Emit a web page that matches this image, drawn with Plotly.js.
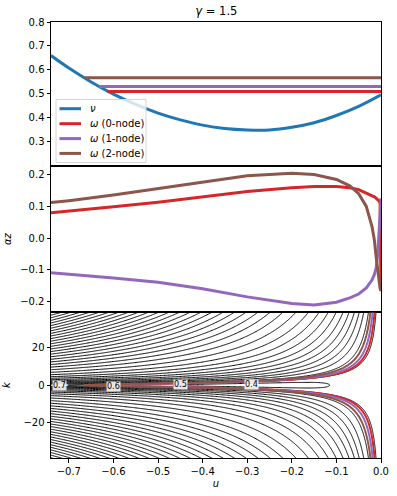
<!DOCTYPE html>
<html>
<head>
<meta charset="utf-8">
<script src="https://cdn.plot.ly/plotly-3.0.1.min.js"></script>
<style>
  html, body { margin: 0; padding: 0; background: #fff; }
  #chart { width: 397px; height: 496px; }
</style>
</head>
<body>
<div id="chart"></div>
<script>
// top panel: nu(u) and the mode frequencies
const uNu = [-0.74, -0.7, -0.65, -0.6, -0.55, -0.5, -0.45, -0.4, -0.35, -0.3, -0.25, -0.2, -0.15, -0.1, -0.05, 0];
const nu = [0.660, 0.608, 0.550, 0.499, 0.456, 0.420, 0.392, 0.370, 0.356, 0.350, 0.350, 0.361, 0.380, 0.410, 0.448, 0.496];

const modeNames = ['(0-node)', '(1-node)', '(2-node)'];
const omega = [0.510, 0.531, 0.567];
const omegaStart = [-0.614, -0.632, -0.664];

// middle panel: alpha z for each mode
const uAz = [-0.74, -0.7, -0.6, -0.5, -0.4, -0.3, -0.2, -0.15, -0.1, -0.07, -0.05, -0.033, -0.02, -0.015, -0.011, -0.007, -0.004, -0.002, 0];
const az0 = [0.080, 0.086, 0.099, 0.113, 0.130, 0.147, 0.159, 0.163, 0.163, 0.159, 0.153, 0.143, 0.134, 0.130, 0.126, 0.121, 0.116, 0.110, -0.168];
const az1 = [-0.110, -0.114, -0.126, -0.140, -0.160, -0.186, -0.207, -0.212, -0.203, -0.189, -0.177, -0.158, -0.132, -0.116, -0.095, -0.047, 0.015, 0.060, 0.126];
const az2 = [0.112, 0.118, 0.136, 0.156, 0.178, 0.197, 0.205, 0.201, 0.185, 0.165, 0.140, 0.100, 0.035, -0.005, -0.058, -0.110, -0.150, -0.160, -0.165];

// bottom panel: omega(u,k) = sqrt(nu^2 + C |u|^P k^2), fitted to where the coloured
// level curves sit. Black levels: 0.4, 0.5, then ~22% apart, then 0.9 apart above 4.5
const fieldC = 0.915, fieldP = 2.55;
const levelLow = 0.5, levelHigh = 4.5;

const contourLabels = ['0.7', '0.6', '0.5', '0.4'];
const labelU = [-0.722, -0.6, -0.45, -0.29];
const labelK = [-0.3, -0.6, 0.4, 0.6];

const colors = ['#d62728', '#9467bd', '#8c564b'];
const blue = '#1f77b4';
const azData = [az0, az1, az2];

// smooth (cubic hermite) interpolation between read points
function interp(xs, ys, x) {
  const n = xs.length;
  let i = 0;
  while (i < n - 2 && x > xs[i + 1]) i++;
  const x0 = xs[i], x1 = xs[i + 1];
  const t = Math.min(1, Math.max(0, (x - x0) / (x1 - x0)));
  const h = x1 - x0;
  const slope = j => {
    const a = Math.max(0, j - 1), b = Math.min(n - 1, j + 1);
    return (ys[b] - ys[a]) / (xs[b] - xs[a]);
  };
  const m0 = slope(i) * h, m1 = slope(i + 1) * h;
  const t2 = t * t, t3 = t2 * t;
  return (2*t3 - 3*t2 + 1) * ys[i] + (t3 - 2*t2 + t) * m0 + (-2*t3 + 3*t2) * ys[i + 1] + (t3 - t2) * m1;
}

// level spacing transform for the black contours (integer steps = one level)
function levelScale(f) {
  if (f <= levelLow) return f * 10;
  if (f <= levelHigh) return 5 + 5 * Math.log(f / levelLow);
  return 5 + 5 * Math.log(levelHigh / levelLow) + (f - levelHigh) / 0.9;
}

const gridU = [];
for (let i = 0; i <= 320; i++) gridU.push(-0.75 * Math.pow(1 - i / 320, 1.5));
const gridK = [];
for (let j = -220; j <= 220; j++) { const t = j / 220; gridK.push(40 * Math.sign(t) * t * t); }
const nuRow = gridU.map(u => interp(uNu, nu, u));
const cRow = gridU.map(u => fieldC * Math.pow(Math.abs(u), fieldP));
const field = gridK.map(k => gridU.map((u, i) => Math.sqrt(nuRow[i] * nuRow[i] + cRow[i] * k * k)));
const fieldScaled = field.map(row => row.map(levelScale));

const traces = [];

traces.push({
  x: uNu, y: nu, xaxis: 'x', yaxis: 'y', type: 'scatter', mode: 'lines',
  showlegend: false, line: { color: blue, width: 3, shape: 'spline' }
});
omega.forEach((w, i) => {
  traces.push({
    x: [omegaStart[i], 0], y: [w, w], xaxis: 'x', yaxis: 'y',
    type: 'scatter', mode: 'lines', showlegend: false,
    line: { color: colors[i], width: 3 }
  });
});

azData.forEach((az, i) => {
  traces.push({
    x: uAz, y: az, xaxis: 'x2', yaxis: 'y2', type: 'scatter', mode: 'lines',
    showlegend: false, line: { color: colors[i], width: 3 }
  });
});

traces.push({
  type: 'contour', x: gridU, y: gridK, z: fieldScaled, xaxis: 'x3', yaxis: 'y3',
  contours: { coloring: 'lines', start: 4, end: 60, size: 1 },
  colorscale: [[0, '#000'], [1, '#000']], showscale: false,
  line: { width: 1, smoothing: 0.8 }, hoverinfo: 'skip'
});
omega.forEach((w, i) => {
  traces.push({
    type: 'contour', x: gridU, y: gridK, z: field, xaxis: 'x3', yaxis: 'y3',
    contours: { coloring: 'lines', start: w, end: w, size: 1 },
    colorscale: [[0, colors[i]], [1, colors[i]]], showscale: false,
    line: { width: 2, smoothing: 0.8 }, hoverinfo: 'skip'
  });
});

// hand-built legend (matplotlib style, inside the top panel)
const px = x => (x - 51) / 330;
const py = y => (458 - y) / 436;
const legendRows = [108.7, 123.7, 138.6, 153.4];
const legendColors = [blue].concat(colors);
const legendText = ['<i>ν</i>'].concat(modeNames.map(m => '<i>ω</i> ' + m));

const shapes = [{
  type: 'rect', xref: 'paper', yref: 'paper', x0: px(56), x1: px(146), y0: py(162.5), y1: py(99.5),
  line: { color: '#d5d5d5', width: 1 }, fillcolor: 'rgba(255,255,255,0.8)', layer: 'above'
}];
legendRows.forEach((y, i) => {
  shapes.push({
    type: 'line', xref: 'paper', yref: 'paper', x0: px(59.5), x1: px(81), y0: py(y), y1: py(y),
    line: { color: legendColors[i], width: 3 }, layer: 'above'
  });
});

const annotations = legendRows.map((y, i) => ({
  xref: 'paper', yref: 'paper', x: px(88), y: py(y), xanchor: 'left', yanchor: 'middle',
  text: legendText[i], showarrow: false, font: { size: 10, color: '#000' }
})).concat(contourLabels.map((t, i) => ({
  x: labelU[i], y: labelK[i], xref: 'x3', yref: 'y3', text: t, showarrow: false,
  font: { size: 8, color: '#000' }, bgcolor: 'rgba(255,255,255,0.85)', borderpad: 0
})));

const axisBase = {
  showline: true, mirror: true, linecolor: '#000', linewidth: 1,
  showgrid: false, zeroline: false, ticks: 'outside', ticklen: 3.5,
  tickcolor: '#000', tickfont: { size: 10, color: '#000' }
};
const xRange = [-0.74, 0];

const layout = {
  width: 397, height: 496,
  margin: { l: 51, r: 16, t: 22, b: 38 },
  paper_bgcolor: '#fff', plot_bgcolor: '#fff',
  font: { family: 'DejaVu Sans, sans-serif', size: 10, color: '#000' },
  title: { text: '<i>γ</i> = 1.5', x: 0.545, xanchor: 'center', y: 0.977, yanchor: 'middle', font: { size: 11.5 } },
  showlegend: false,
  xaxis: Object.assign({}, axisBase, { domain: [0, 1], anchor: 'y', range: xRange, showticklabels: false, ticks: '' }),
  yaxis: Object.assign({}, axisBase, { domain: [0.670, 1], anchor: 'x', range: [0.2, 0.8], tickvals: [0.3, 0.4, 0.5, 0.6, 0.7, 0.8], tickformat: '.1f' }),
  xaxis2: Object.assign({}, axisBase, { domain: [0, 1], anchor: 'y2', range: xRange, showticklabels: false, ticks: '' }),
  yaxis2: Object.assign({}, axisBase, { domain: [0.334, 0.670], anchor: 'x2', range: [-0.235, 0.228], tickvals: [-0.2, -0.1, 0, 0.1, 0.2], tickformat: '.1f',
    title: { text: '<i>αz</i>', font: { size: 10 }, standoff: 6 } }),
  xaxis3: Object.assign({}, axisBase, { domain: [0, 1], anchor: 'y3', range: xRange, tickvals: [-0.7, -0.6, -0.5, -0.4, -0.3, -0.2, -0.1, 0], tickformat: '.1f',
    title: { text: '<i>u</i>', font: { size: 10 }, standoff: 4 } }),
  yaxis3: Object.assign({}, axisBase, { domain: [0, 0.334], anchor: 'x3', range: [-38.8, 38.8], tickvals: [-20, 0, 20],
    title: { text: '<i>k</i>', font: { size: 10 }, standoff: 10 } }),
  shapes: shapes,
  annotations: annotations
};

Plotly.newPlot('chart', traces, layout, { displayModeBar: false, staticPlot: true });
</script>
</body>
</html>
